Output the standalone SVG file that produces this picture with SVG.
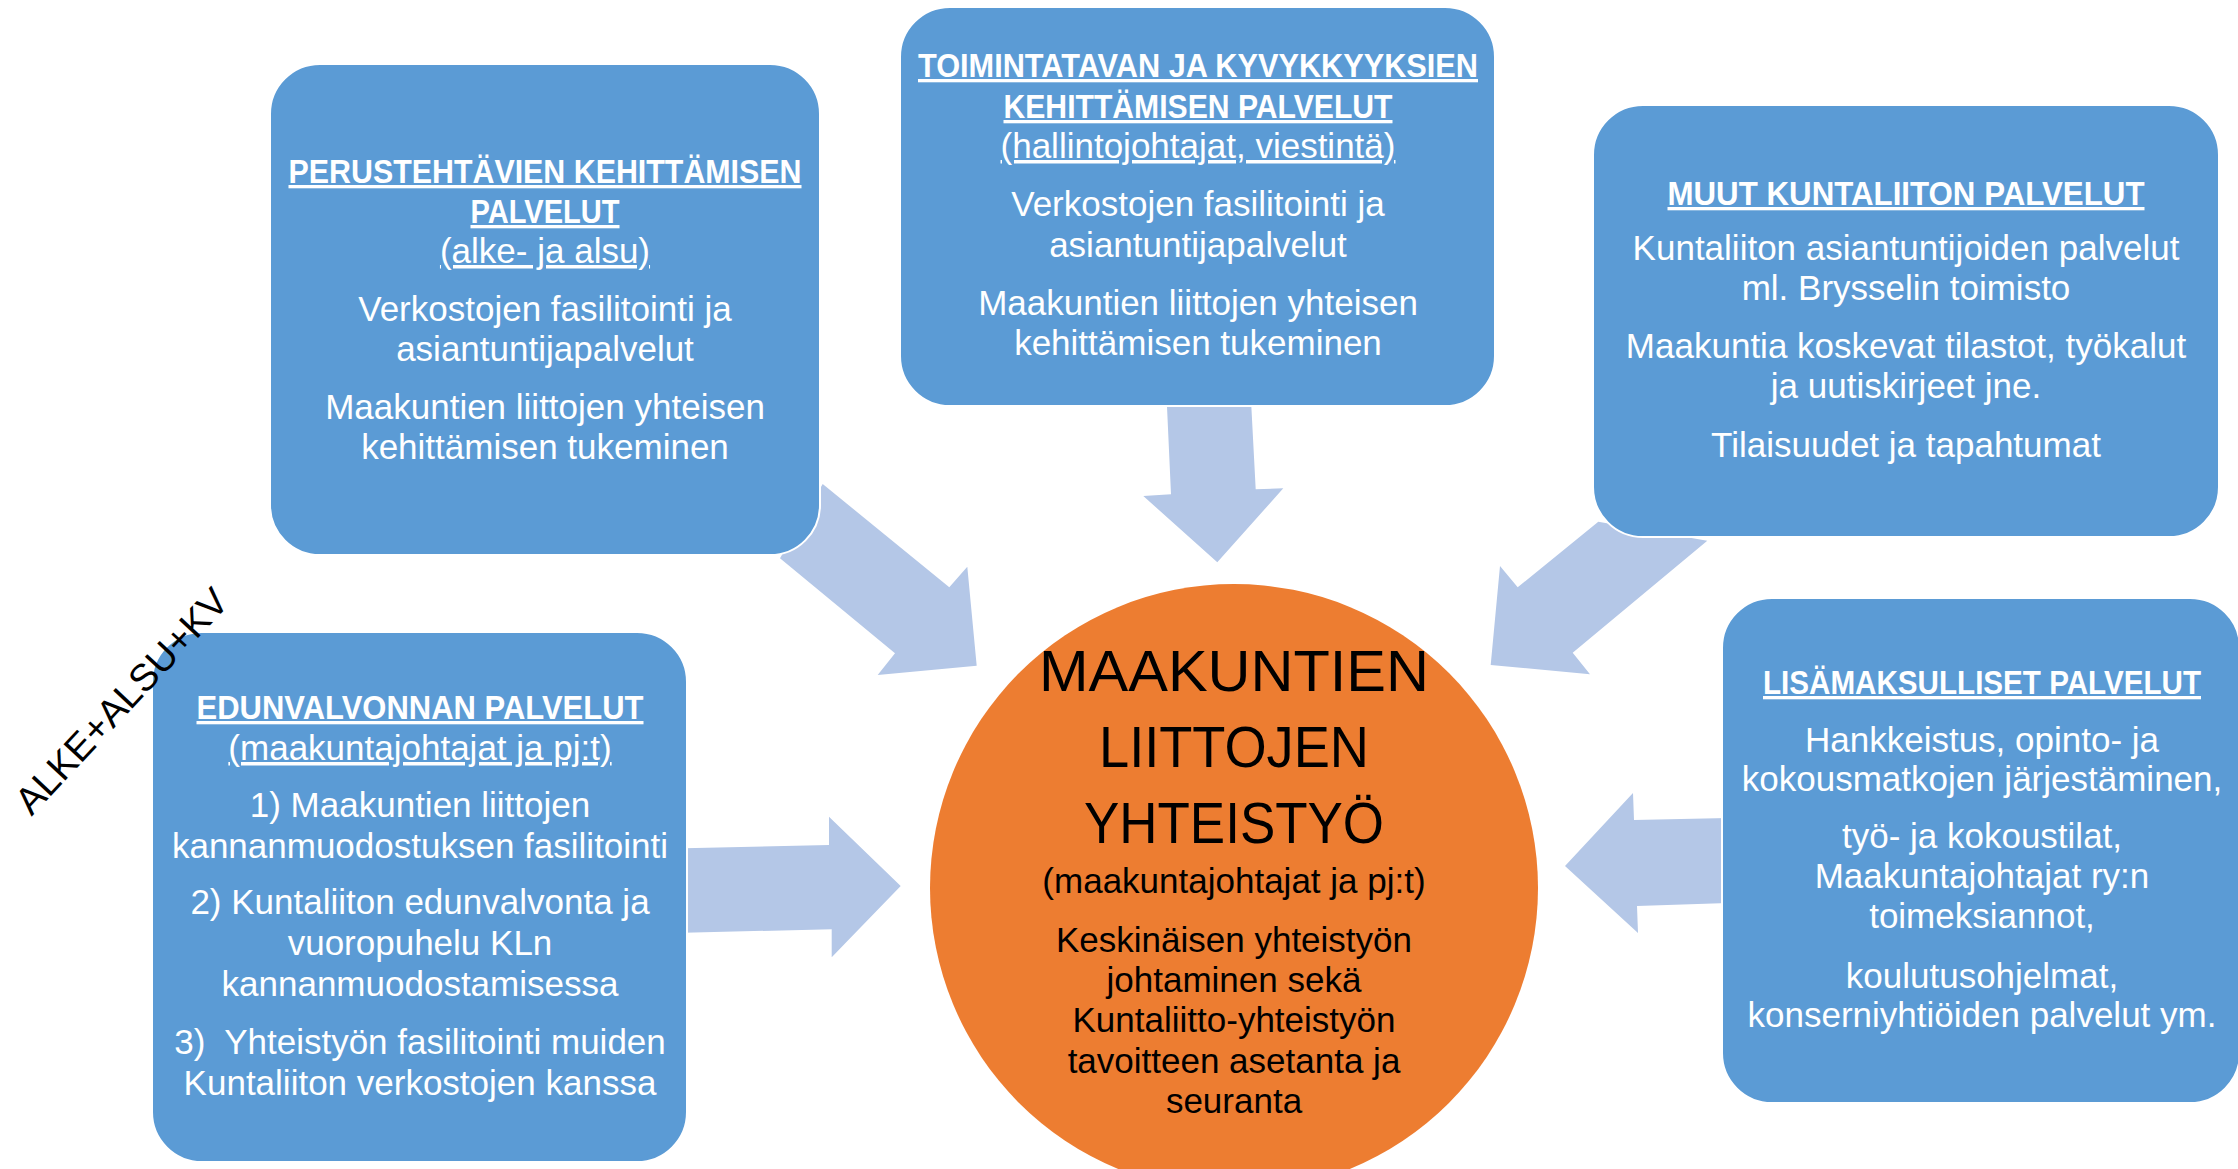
<svg xmlns="http://www.w3.org/2000/svg" width="2238" height="1169" viewBox="0 0 2238 1169">
  <style>
    .box { fill: #5B9BD5; stroke: #FFFFFF; stroke-width: 2; }
    .arrow { fill: #B4C7E7; }
    .hub { fill: #ED7D31; }
    text { font-family: "Liberation Sans", Arial, sans-serif; font-size: 35px; fill: #FFFFFF; text-anchor: middle; }
    .h { font-weight: bold; font-size: 33px; text-decoration: underline; }
    .u { text-decoration: underline; }
    .dark { fill: #000000; }
    .big { font-size: 57px; }
    .side { font-size: 38px; fill: #000000; }
  </style>
  <rect x="0" y="0" width="2238" height="1169" fill="#FFFFFF"/>

  <g id="connectors">
    <polygon class="arrow" points="822.7,484 949.3,587.3 967.3,566.7 976.7,665.7 877.7,675 895,653.3 780,558.3"/>
    <polygon class="arrow" points="1166.7,400 1251,400 1255.7,489.3 1283.3,488.3 1217.3,562.3 1143.3,496 1171,494.3"/>
    <polygon class="arrow" points="1598.3,521.7 1517.7,587.3 1500,566 1490.7,665 1590,674.3 1572.7,652.7 1707.3,540.7"/>
    <polygon class="arrow" points="684,848.3 829,845 829,816.7 900.7,886 831.7,957.3 831.7,929.3 684,932.7"/>
    <polygon class="arrow" points="1728,818 1634,820 1633,793 1565,866 1638,933 1637,906 1728,903"/>
  </g>

  <g id="node-perustehtavat">
    <rect class="box" x="270" y="64" width="550" height="491" rx="50" ry="50"/>
    <text class="h" x="545" y="183" textLength="513" lengthAdjust="spacingAndGlyphs">PERUSTEHTÄVIEN KEHITTÄMISEN</text>
    <text class="h" x="545" y="223" textLength="149" lengthAdjust="spacingAndGlyphs">PALVELUT</text>
    <text class="u" x="545" y="263">(alke- ja alsu)</text>
    <text x="545" y="321">Verkostojen fasilitointi ja</text>
    <text x="545" y="361">asiantuntijapalvelut</text>
    <text x="545" y="419">Maakuntien liittojen yhteisen</text>
    <text x="545" y="459">kehittämisen tukeminen</text>
  </g>

  <g id="node-toimintatapa">
    <rect class="box" x="900" y="7" width="595" height="399" rx="50" ry="50"/>
    <text class="h" x="1198" y="77" textLength="560" lengthAdjust="spacingAndGlyphs">TOIMINTATAVAN JA KYVYKKYYKSIEN</text>
    <text class="h" x="1198" y="118" textLength="389" lengthAdjust="spacingAndGlyphs">KEHITTÄMISEN PALVELUT</text>
    <text class="u" x="1198" y="158">(hallintojohtajat, viestintä)</text>
    <text x="1198" y="216">Verkostojen fasilitointi ja</text>
    <text x="1198" y="257">asiantuntijapalvelut</text>
    <text x="1198" y="315">Maakuntien liittojen yhteisen</text>
    <text x="1198" y="355">kehittämisen tukeminen</text>
  </g>

  <g id="node-muut">
    <rect class="box" x="1593" y="105" width="626" height="432" rx="50" ry="50"/>
    <text class="h" x="1906" y="205" textLength="477" lengthAdjust="spacingAndGlyphs">MUUT KUNTALIITON PALVELUT</text>
    <text x="1906" y="260">Kuntaliiton asiantuntijoiden palvelut</text>
    <text x="1906" y="300">ml. Brysselin toimisto</text>
    <text x="1906" y="358">Maakuntia koskevat tilastot, työkalut</text>
    <text x="1906" y="398">ja uutiskirjeet jne.</text>
    <text x="1906" y="457">Tilaisuudet ja tapahtumat</text>
  </g>

  <g id="node-edunvalvonta">
    <rect class="box" x="152" y="632" width="535" height="530" rx="50" ry="50"/>
    <text class="h" x="420" y="719" textLength="447" lengthAdjust="spacingAndGlyphs">EDUNVALVONNAN PALVELUT</text>
    <text class="u" x="420" y="760">(maakuntajohtajat ja pj:t)</text>
    <text x="420" y="817">1) Maakuntien liittojen</text>
    <text x="420" y="858">kannanmuodostuksen fasilitointi</text>
    <text x="420" y="914">2) Kuntaliiton edunvalvonta ja</text>
    <text x="420" y="955">vuoropuhelu KLn</text>
    <text x="420" y="996">kannanmuodostamisessa</text>
    <text x="420" y="1054" xml:space="preserve">3)  Yhteistyön fasilitointi muiden</text>
    <text x="420" y="1095">Kuntaliiton verkostojen kanssa</text>
  </g>

  <g id="node-lisamaksulliset">
    <rect class="box" x="1722" y="598" width="518" height="505" rx="50" ry="50"/>
    <text class="h" x="1982" y="694" textLength="438" lengthAdjust="spacingAndGlyphs">LISÄMAKSULLISET PALVELUT</text>
    <text x="1982" y="752">Hankkeistus, opinto- ja</text>
    <text x="1982" y="791">kokousmatkojen järjestäminen,</text>
    <text x="1982" y="848">työ- ja kokoustilat,</text>
    <text x="1982" y="888">Maakuntajohtajat ry:n</text>
    <text x="1982" y="928">toimeksiannot,</text>
    <text x="1982" y="988">koulutusohjelmat,</text>
    <text x="1982" y="1027">konserniyhtiöiden palvelut ym.</text>
  </g>

  <g id="node-yhteistyo">
    <circle class="hub" cx="1234" cy="888" r="304"/>
    <text class="dark big" x="1234" y="691" textLength="390" lengthAdjust="spacingAndGlyphs">MAAKUNTIEN</text>
    <text class="dark big" x="1234" y="767" textLength="270" lengthAdjust="spacingAndGlyphs">LIITTOJEN</text>
    <text class="dark big" x="1234" y="843" textLength="300" lengthAdjust="spacingAndGlyphs">YHTEISTYÖ</text>
    <text class="dark" x="1234" y="893">(maakuntajohtajat ja pj:t)</text>
    <text class="dark" x="1234" y="952">Keskinäisen yhteistyön</text>
    <text class="dark" x="1234" y="992">johtaminen sekä</text>
    <text class="dark" x="1234" y="1032">Kuntaliitto-yhteistyön</text>
    <text class="dark" x="1234" y="1073">tavoitteen asetanta ja</text>
    <text class="dark" x="1234" y="1113">seuranta</text>
  </g>

  <g id="label-alke">
    <text class="side" transform="translate(131,710) rotate(-47)" x="0" y="0" textLength="292" lengthAdjust="spacingAndGlyphs">ALKE+ALSU+KV</text>
  </g>
</svg>
